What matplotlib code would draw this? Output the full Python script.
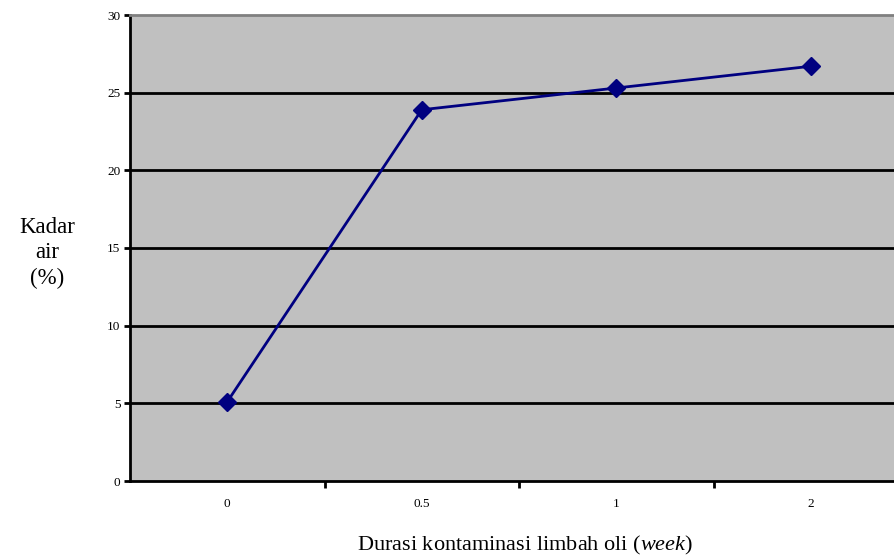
import numpy as np
import matplotlib.pyplot as plt

# moisture content vs. oil-sludge contamination duration
durations = ["0", "0.5", "1", "2"]
kadar_air = [5.1, 23.9, 25.3, 26.7]
y_ticks = [0, 5, 10, 15, 20, 25, 30]

plt.rcParams["font.family"] = ["Liberation Serif", "DejaVu Serif"]
plt.rcParams["mathtext.fontset"] = "custom"
plt.rcParams["mathtext.rm"] = "Liberation Serif"
plt.rcParams["mathtext.it"] = "Liberation Serif:italic"

fig = plt.figure(figsize=(8.95, 5.59), dpi=100)
W, H = 895, 559
# plot area runs past the right edge, like the original sheet
ax = fig.add_axes([130 / W, (H - 481) / H, (908 - 130) / W, (481 - 15) / H])
ax.set_facecolor("#c0c0c0")

x = np.arange(len(durations))
ax.set_xlim(-0.5, len(durations) - 0.5)
ax.set_ylim(0, 30)

for yv in y_ticks[1:-1]:
    ax.axhline(yv, color="black", linewidth=2, zorder=1)

ax.plot(x, kadar_air, color="#000080", linewidth=2, marker="D",
        markersize=9, markerfacecolor="#000080", markeredgecolor="#000080", zorder=3)

ax.set_yticks(y_ticks)
ax.set_yticklabels([str(v) for v in y_ticks], fontsize=9.5)
ax.tick_params(axis="y", direction="out", length=4, width=2, pad=3)

# category labels centred, tick marks between categories
ax.set_xticks(x)
ax.set_xticklabels(durations, fontsize=9.5)
ax.set_xticks(x[:-1] + 0.5, minor=True)
ax.tick_params(axis="x", which="major", length=0, pad=12)
ax.tick_params(axis="x", which="minor", direction="out", length=5, width=2)

for side in ["left", "bottom"]:
    ax.spines[side].set_linewidth(2)
    ax.spines[side].set_color("black")
ax.spines["top"].set_color("#808080")
ax.spines["top"].set_linewidth(2)
ax.spines["right"].set_visible(False)

fig.text(47 / W, 1 - 253 / H, "Kadar\nair\n(%)", ha="center", va="center",
         fontsize=16.5, linespacing=1.3)
fig.text(525 / W, 1 - 545 / H, "Durasi kontaminasi limbah oli ($\\mathit{week}$)",
         ha="center", va="center", fontsize=16)

fig.savefig("out.png", dpi=100)
